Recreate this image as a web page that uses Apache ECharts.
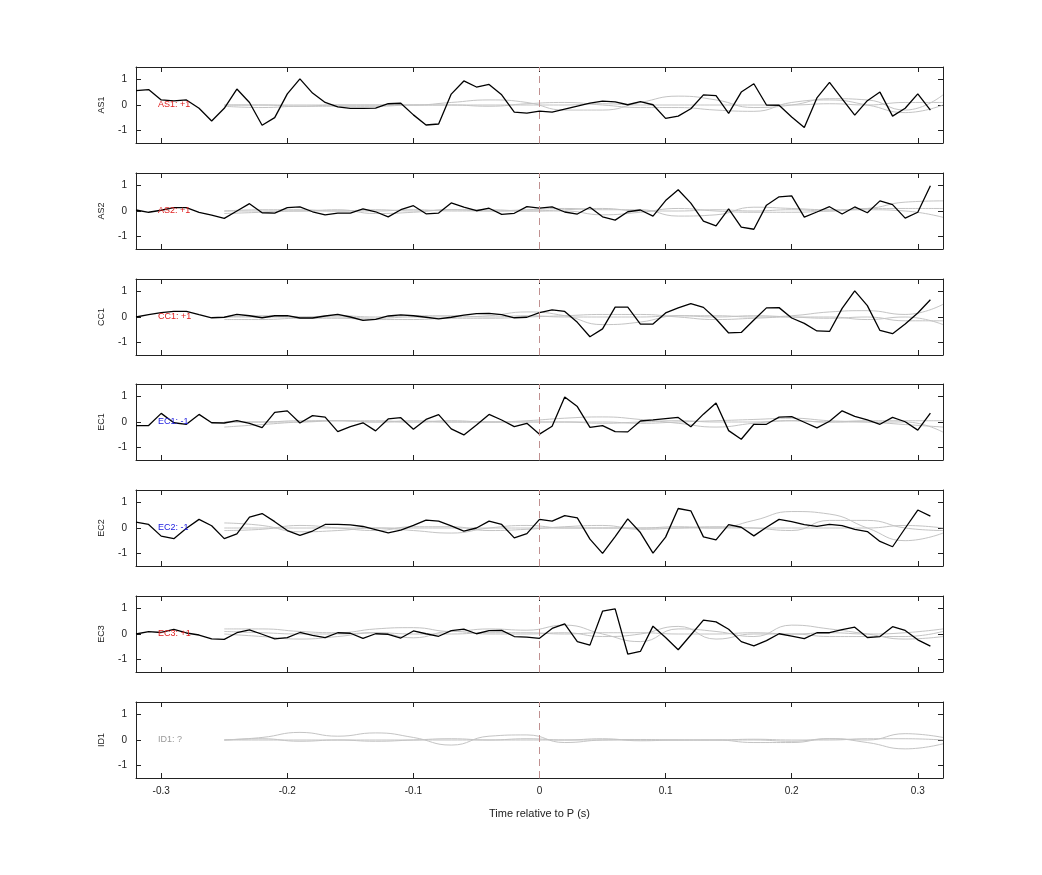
<!DOCTYPE html>
<html><head><meta charset="utf-8">
<script src="https://cdn.jsdelivr.net/npm/echarts@6/dist/echarts.min.js"></script>
<style>html,body{margin:0;padding:0;background:#fff}#c{width:1042px;height:875px}</style>
</head><body><div id="c"></div>
<script>
const times = [-0.32,-0.31,-0.30,-0.29,-0.28,-0.27,-0.26,-0.25,-0.24,-0.23,-0.22,-0.21,-0.20,-0.19,-0.18,-0.17,-0.16,-0.15,-0.14,-0.13,-0.12,-0.11,-0.10,-0.09,-0.08,-0.07,-0.06,-0.05,-0.04,-0.03,-0.02,-0.01,0.00,0.01,0.02,0.03,0.04,0.05,0.06,0.07,0.08,0.09,0.10,0.11,0.12,0.13,0.14,0.15,0.16,0.17,0.18,0.19,0.20,0.21,0.22,0.23,0.24,0.25,0.26,0.27,0.28,0.29,0.30,0.31];
const greyTimes = [-0.25,-0.22,-0.19,-0.16,-0.13,-0.10,-0.07,-0.04,-0.01,0.02,0.05,0.08,0.11,0.14,0.17,0.20,0.23,0.26,0.29,0.32];
const xTicks = [-0.3,-0.2,-0.1,0,0.1,0.2,0.3];
const yTicks = [-1,0,1];
const channels = ['AS1','AS2','CC1','EC1','EC2','EC3','ID1'];
const polarityLabels = ['AS1: +1','AS2: +1','CC1: +1','EC1: -1','EC2: -1','EC3: +1','ID1: ?'];
const labelColors = ['#e02020','#e02020','#e02020','#2020e0','#2020e0','#e02020','#999999'];

const AS1 = [0.57,0.61,0.2,0.16,0.2,-0.13,-0.63,-0.13,0.63,0.1,-0.8,-0.5,0.44,1.03,0.47,0.1,-0.07,-0.13,-0.13,-0.12,0.05,0.07,-0.39,-0.79,-0.75,0.43,0.95,0.71,0.81,0.4,-0.28,-0.32,-0.24,-0.28,-0.16,-0.04,0.07,0.15,0.12,0.01,0.13,0.01,-0.53,-0.44,-0.15,0.4,0.37,-0.33,0.51,0.84,0,-0.01,-0.47,-0.89,0.28,0.89,0.24,-0.4,0.17,0.51,-0.44,-0.13,0.44,-0.2];
const AS2 = [0.04,-0.05,0.03,0.13,0.13,-0.05,-0.16,-0.29,0,0.29,-0.07,-0.08,0.13,0.16,-0.03,-0.15,-0.08,-0.08,0.08,-0.03,-0.23,0.05,0.21,-0.11,-0.08,0.32,0.15,0.01,0.11,-0.13,-0.09,0.17,0.11,0.16,-0.04,-0.12,0.15,-0.23,-0.36,-0.03,0.04,-0.2,0.41,0.84,0.31,-0.4,-0.59,0.08,-0.64,-0.72,0.23,0.56,0.6,-0.24,-0.04,0.17,-0.12,0.16,-0.07,0.4,0.25,-0.28,-0.05,1.0];
const CC1 = [0,0.09,0.17,0.22,0.22,0.09,-0.03,-0.01,0.1,0.05,-0.03,0.05,0.05,-0.04,-0.04,0.04,0.1,0,-0.13,-0.09,0.04,0.08,0.05,-0.01,-0.07,-0.01,0.07,0.13,0.14,0.09,-0.03,-0.01,0.17,0.28,0.22,-0.21,-0.78,-0.47,0.39,0.39,-0.28,-0.28,0.16,0.36,0.53,0.38,-0.08,-0.63,-0.61,-0.12,0.36,0.37,-0.04,-0.25,-0.55,-0.57,0.34,1.03,0.45,-0.53,-0.66,-0.28,0.16,0.68];
const EC1 = [-0.14,-0.14,0.34,-0.03,-0.09,0.3,-0.03,-0.04,0.05,-0.05,-0.22,0.38,0.44,-0.04,0.25,0.19,-0.38,-0.18,-0.03,-0.35,0.12,0.17,-0.29,0.1,0.29,-0.27,-0.51,-0.12,0.3,0.08,-0.18,-0.05,-0.48,-0.17,0.99,0.61,-0.21,-0.14,-0.38,-0.39,0.04,0.08,0.13,0.18,-0.19,0.31,0.75,-0.34,-0.68,-0.09,-0.09,0.19,0.21,-0.01,-0.23,0.03,0.44,0.22,0.08,-0.09,0.18,0.01,-0.32,0.35];
const EC2 = [0.23,0.14,-0.32,-0.42,-0.01,0.34,0.09,-0.42,-0.23,0.43,0.57,0.25,-0.1,-0.29,-0.12,0.14,0.14,0.12,0.06,-0.06,-0.19,-0.08,0.1,0.31,0.27,0.08,-0.12,0,0.27,0.14,-0.39,-0.22,0.34,0.27,0.49,0.4,-0.44,-1.0,-0.34,0.36,-0.18,-0.99,-0.36,0.77,0.68,-0.35,-0.47,0.13,0.03,-0.31,0.03,0.34,0.25,0.13,0.06,0.14,0.09,-0.05,-0.14,-0.53,-0.74,-0.01,0.71,0.47];
const EC3 = [0,0.09,0.06,0.18,0.04,-0.04,-0.19,-0.21,0.05,0.16,-0.01,-0.19,-0.14,0.06,-0.05,-0.14,0.05,0.03,-0.17,0.01,-0.01,-0.16,0.12,0.01,-0.09,0.13,0.19,0.01,0.13,0.14,-0.1,-0.12,-0.17,0.22,0.4,-0.3,-0.44,0.9,0.99,-0.79,-0.69,0.31,-0.14,-0.62,-0.04,0.55,0.48,0.19,-0.3,-0.47,-0.26,0.01,-0.08,-0.18,0.05,0.05,0.17,0.27,-0.14,-0.1,0.29,0.14,-0.23,-0.48];
const ID1 = null;

const greyAS1 = [[0,0,-0.05,0,0,0,0.1,0.2,0.1,-0.2,-0.2,0.1,0.35,0.2,-0.1,0,0.25,0.2,-0.2,0.4],[-0.05,-0.1,-0.05,-0.05,-0.05,0,0,-0.05,0.05,0.1,0,-0.1,-0.1,-0.2,-0.25,0.1,0.2,0,-0.3,0],[0,0,0,0,0,0,0,0,0,0,0.05,0,0,0,0,0,0.05,0,0.1,0.1]];
const greyAS2 = [[0,0,0,0.05,-0.1,-0.05,0.05,0,0.05,0.1,0.05,0.05,-0.2,-0.15,0.15,0.1,0.05,0.1,0.35,0.4],[-0.1,-0.05,0,0,0,0.05,0,0,0,0,-0.15,-0.05,0.1,0,-0.05,-0.05,0,0.05,0,-0.25],[0,0.05,0.05,0,0.05,0,0.05,0.05,0,0.05,0.1,0,0,0.05,0,0.05,0,0.1,0.1,0.1]];
const greyCC1 = [[0,0,0,0,-0.05,0,0,0.05,0.2,0.05,-0.3,-0.2,0.05,0.05,0,0.05,0.2,0.25,0.1,0.5],[-0.1,-0.1,-0.05,-0.05,-0.1,-0.1,-0.05,-0.05,0,0.05,0.1,0.1,0,-0.1,-0.05,0,0,-0.1,0,-0.3],[0,0.05,0,0.05,0,0.05,0.05,0,0.05,0,0,0,0.05,0,0.05,0,-0.05,0,-0.15,-0.15]];
const greyEC1 = [[-0.2,-0.1,0,0.05,0,0.05,0,0,0.05,0.15,0.2,0.1,-0.05,-0.2,-0.05,0.05,0,0,0,-0.4],[0,0,0.05,0.05,0.05,0,0,0,0,0,0,-0.05,0,0.05,0.1,0.15,0.05,0,-0.1,-0.2],[0,0,0,0.05,0,0,0.05,0,0,0,-0.05,0,0.05,0,0,0.05,0,0.05,0.05,0.05]];
const greyEC2 = [[0.2,0.1,-0.15,-0.1,0,-0.1,-0.2,0,0.1,0,0,0,0,0,0.3,0.65,0.55,0,-0.5,-0.2],[-0.1,-0.05,0.1,0,-0.1,0.05,0.05,-0.1,-0.05,0.05,0.1,-0.05,0,0.05,0,-0.1,0.3,0.3,0,-0.1],[0,0,0,0,0,0,0,0,0,0,0,0,0.05,0,0,0,0,0,0.1,0]];
const greyEC3 = [[0.2,0.2,0.1,0.05,0.2,0.25,0.1,0.2,0.15,0.35,0,-0.3,0.2,0.1,-0.1,0.35,0.2,0,-0.2,-0.1],[0,-0.1,-0.2,-0.1,0.05,-0.15,0.1,0,0,0.05,-0.1,0,0.3,-0.2,0,0,-0.1,-0.1,-0.1,0.1],[0.1,0.05,0,0,0.05,0,0,0.05,0.05,0,0.05,0.05,0,0,0.05,0,0.05,0,0.05,0.2]];
const greyID1 = [[0,0.1,0.3,0.15,0.28,0.1,-0.2,0.15,0.2,-0.1,0,0.02,0,0,-0.1,-0.1,0.05,0,0.25,0.1],[0,0,0,0,0,0,0,0,0,0,0,0,0,0,0,-0.05,0.05,-0.1,-0.35,-0.15],[0,0.05,-0.05,0,-0.05,0,0.05,0,0.05,0,0.05,-0.03,0,0,0.03,0,0,0.05,0.05,0]];

const blackData = [AS1,AS2,CC1,EC1,EC2,EC3,ID1];
const greyData = [greyAS1,greyAS2,greyCC1,greyEC1,greyEC2,greyEC3,greyID1];

const tops = [67,173,279,384,490,596,702];
const H = 76, L = 136, W = 807;
const grid=[], xAxis=[], yAxis=[], series=[];
const fontFamily = 'Liberation Sans, Arial, sans-serif';
const frame = {onZero:false,show:true,lineStyle:{color:'#222',width:1}};
channels.forEach((ch,i)=>{
  grid.push({left:L,top:tops[i],width:W,height:H});
  const last = i===channels.length-1;
  xAxis.push({type:'value',gridIndex:i,min:-0.32,max:0.32,position:'bottom',
    axisLine:frame,
    axisTick:{inside:true,length:5,customValues:xTicks,lineStyle:{color:'#222'}},
    axisLabel:{show:last,customValues:xTicks,color:'#222',fontSize:10,fontFamily,margin:8},
    splitLine:{show:false},
    name:last?'Time relative to P (s)':'',nameLocation:'middle',nameGap:30,
    nameTextStyle:{color:'#222',fontSize:11,fontFamily}});
  xAxis.push({type:'value',gridIndex:i,min:-0.32,max:0.32,position:'top',
    axisLine:frame,
    axisTick:{inside:true,length:5,customValues:xTicks,lineStyle:{color:'#222'}},
    axisLabel:{show:false},splitLine:{show:false}});
  yAxis.push({type:'value',gridIndex:i,min:-1.5,max:1.5,position:'left',
    axisLine:frame,
    axisTick:{inside:true,length:5,customValues:yTicks,lineStyle:{color:'#222'}},
    axisLabel:{customValues:yTicks,color:'#222',fontSize:10,fontFamily,margin:9},
    splitLine:{show:false},
    name:ch,nameLocation:'middle',nameGap:30,nameRotate:90,
    nameTextStyle:{color:'#222',fontSize:9,fontFamily}});
  yAxis.push({type:'value',gridIndex:i,min:-1.5,max:1.5,position:'right',
    axisLine:frame,
    axisTick:{inside:true,length:5,customValues:yTicks,lineStyle:{color:'#222'}},
    axisLabel:{show:false},splitLine:{show:false}});
  greyData[i].forEach(g=>{
    series.push({type:'line',xAxisIndex:2*i,yAxisIndex:2*i,smooth:0.5,symbol:'none',silent:true,
      lineStyle:{color:'#c4c4c4',width:1},data:greyTimes.map((t,k)=>[t,g[k]])});
  });
  series.push({type:'line',xAxisIndex:2*i,yAxisIndex:2*i,symbol:'none',silent:true,z:3,
    lineStyle:{color:'#000',width:1.3},
    data: blackData[i] ? times.map((t,k)=>[t,blackData[i][k]]) : [],
    markLine:{silent:true,symbol:'none',label:{show:false},
      lineStyle:{color:'#c09090',type:[7,5],width:1},data:[{xAxis:0}]},
    markPoint:{symbol:'rect',symbolSize:1,itemStyle:{color:'transparent'},
      label:{show:true,position:'right',distance:0,formatter:polarityLabels[i],color:labelColors[i],fontSize:9,fontFamily},
      data:[{coord:[-0.303,0]}]}
  });
});
const chart = echarts.init(document.getElementById('c'));
chart.setOption({animation:false,backgroundColor:'#fff',grid,xAxis,yAxis,series});
</script></body></html>
